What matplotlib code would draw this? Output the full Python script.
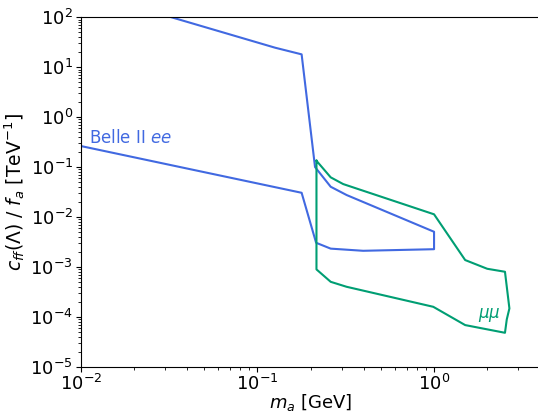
import matplotlib
matplotlib.use("Agg")
import matplotlib.pyplot as plt

# Belle II ee contour (closed)
belle_x = [0.01, 0.0327, 0.126, 0.178, 0.212, 0.260, 0.32, 1.0, 1.0,
           0.397, 0.26, 0.215, 0.178, 0.01, 0.01]
belle_y = [350, 100, 24.6, 18.1, 0.1, 0.0403, 0.0275, 0.00505, 0.00226,
           0.0021, 0.00232, 0.00304, 0.0305, 0.264, 350]

# mu mu contour (closed)
mumu_x = [0.216, 0.260, 0.306, 1.0, 1.5, 2.0, 2.52, 2.67, 2.58, 2.52,
          1.5, 0.99, 0.32, 0.26, 0.216, 0.216]
mumu_y = [0.1337, 0.0622, 0.0456, 0.0113, 0.00137, 0.000916, 0.000798,
          0.000147, 8.87e-5, 4.78e-5, 6.82e-5, 1.585e-4, 3.99e-4, 5.02e-4,
          8.9e-4, 0.1337]

blue = "#4169e1"
green = "#009e73"

fig = plt.figure(figsize=(5.38, 4.13), dpi=100)
ax = fig.add_axes([0.15, 0.1121, 0.8545, 0.846])

ax.plot(belle_x, belle_y, color=blue, lw=1.5)
ax.plot(mumu_x, mumu_y, color=green, lw=1.5)

ax.text(0.01114, 0.298, r"Belle II $ee$", color=blue, fontsize=12,
        ha="left", va="baseline")
ax.text(2.065, 9.4e-5, r"$\mu\mu$", color=green, fontsize=12,
        ha="center", va="baseline")

ax.set_xscale("log")
ax.set_yscale("log")
ax.set_xlim(0.01, 4)
ax.set_ylim(1e-5, 1e2)
ax.tick_params(labelsize=13, pad=2)

ax.set_xlabel(r"$m_a$ [GeV]", fontsize=13, labelpad=-1.5)
ax.set_ylabel(r"$c_{ff}(\Lambda)$ / $f_a$ [TeV$^{-1}$]", fontsize=13.5,
              labelpad=2)

fig.savefig("out.png", dpi=100)
